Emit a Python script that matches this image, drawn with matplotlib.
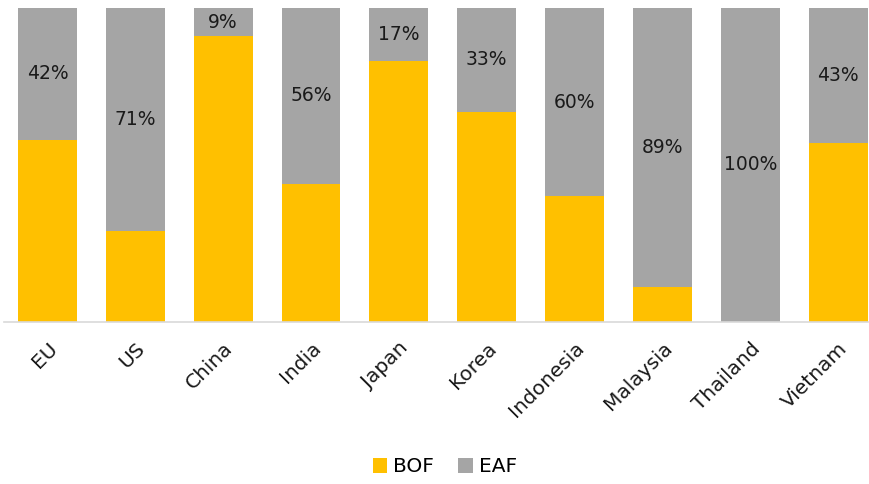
import matplotlib.pyplot as plt
import numpy as np

# share of steel output by route, in percent
countries = ['EU', 'US', 'China', 'India', 'Japan', 'Korea',
             'Indonesia', 'Malaysia', 'Thailand', 'Vietnam']
eaf = [42, 71, 9, 56, 17, 33, 60, 89, 100, 43]
bof = [100 - v for v in eaf]

W, H = 870, 484
fig = plt.figure(figsize=(W / 100, H / 100), dpi=100)
# axes placed in pixels, then converted to figure fractions
left, right, bottom, top = 3.5, 868, H - 322, H - 8
ax = fig.add_axes([left / W, bottom / H, (right - left) / W, (top - bottom) / H])

x = np.arange(len(countries))
ax.bar(x, bof, width=0.67, color='#FFC000', label='BOF')
ax.bar(x, eaf, width=0.67, bottom=bof, color='#A5A5A5', label='EAF')

# percentage label in the middle of the EAF part
for xi, b, e in zip(x, bof, eaf):
    ax.text(xi, b + e / 2, f'{e}%', ha='center', va='center',
            fontsize=13.5, color='#1a1a1a')

ax.set_xlim(-0.5, 9.34)
ax.set_ylim(0, 100)
ax.set_yticks([])
ax.set_xticks(x)
ax.set_xticklabels(countries, rotation=45, ha='right', rotation_mode='anchor',
                   fontsize=14.5, color='#1a1a1a')
ax.tick_params(axis='x', length=0, pad=12)
for s in ['top', 'left', 'right']:
    ax.spines[s].set_visible(False)
ax.spines['bottom'].set_color('#D9D9D9')
ax.spines['bottom'].set_linewidth(1.2)

fig.legend(loc='center', bbox_to_anchor=(445 / W, 1 - 467 / H), ncol=2,
           frameon=False, fontsize=14.5, handlelength=0.7, handleheight=0.7,
           handletextpad=0.3, columnspacing=1.2)

fig.savefig('out.png', dpi=100)
